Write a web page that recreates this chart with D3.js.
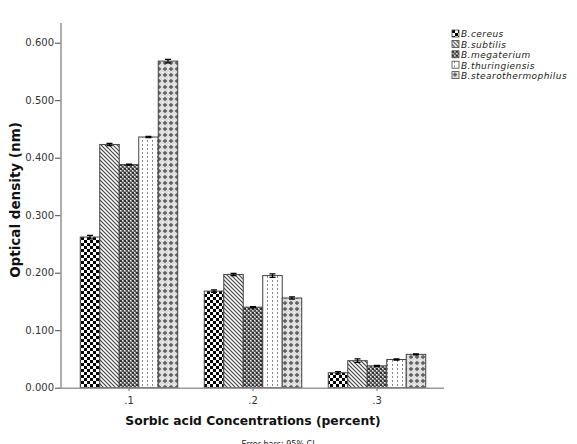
<!DOCTYPE html>
<html><head><meta charset="utf-8">
<script src="https://cdn.jsdelivr.net/npm/d3@7"></script>
<style>
body{margin:0;background:#fff;}
text{font-family:"DejaVu Sans",Verdana,sans-serif;}
</style></head>
<body><svg id="c" width="577" height="444"></svg>
<script>
const categories = [".1", ".2", ".3"];
const seriesNames = ["B.cereus", "B.subtilis", "B.megaterium", "B.thuringiensis", "B.stearothermophilus"];
const cereus = [0.262, 0.168, 0.026];
const subtilis = [0.423, 0.197, 0.047];
const megaterium = [0.388, 0.140, 0.038];
const thuringiensis = [0.436, 0.195, 0.049];
const stearothermophilus = [0.568, 0.156, 0.058];
const errCereus = [0.003, 0.002, 0.002];
const errSubtilis = [0.002, 0.002, 0.003];
const errMegaterium = [0.001, 0.001, 0.001];
const errThuringiensis = [0.001, 0.003, 0.001];
const errStearo = [0.003, 0.002, 0.001];
const yTicks = [0, 0.1, 0.2, 0.3, 0.4, 0.5, 0.6];

const values = [cereus, subtilis, megaterium, thuringiensis, stearothermophilus];
const errs = [errCereus, errSubtilis, errMegaterium, errThuringiensis, errStearo];
const patIds = ["pCheck", "pDiag", "pGrid", "pDash", "pCross"];

const svg = d3.select("#c");
const defs = svg.append("defs");
// checkerboard
let p = defs.append("pattern").attr("id","pCheck").attr("patternUnits","userSpaceOnUse").attr("width",6).attr("height",6);
p.append("rect").attr("width",6).attr("height",6).attr("fill","#fff");
p.append("rect").attr("width",3).attr("height",3).attr("fill","#000");
p.append("rect").attr("x",3).attr("y",3).attr("width",3).attr("height",3).attr("fill","#000");
// diagonal
p = defs.append("pattern").attr("id","pDiag").attr("patternUnits","userSpaceOnUse").attr("width",4).attr("height",4);
p.append("rect").attr("width",4).attr("height",4).attr("fill","#fff");
p.append("path").attr("d","M-1,-1 L5,5 M-1,3 L1,5 M3,-1 L5,1").attr("stroke","#444").attr("stroke-width",1.2);
// dense grid
p = defs.append("pattern").attr("id","pGrid").attr("patternUnits","userSpaceOnUse").attr("width",4).attr("height",4);
p.append("rect").attr("width",4).attr("height",4).attr("fill","#9a9a9a");
p.append("rect").attr("x",0).attr("y",0).attr("width",2).attr("height",2).attr("fill","#333");
p.append("rect").attr("x",2).attr("y",2).attr("width",2).attr("height",2).attr("fill","#555");
p.append("rect").attr("x",2).attr("y",0).attr("width",1).attr("height",1).attr("fill","#eee");
p.append("rect").attr("x",0).attr("y",2).attr("width",1).attr("height",1).attr("fill","#eee");
// dashed vertical
p = defs.append("pattern").attr("id","pDash").attr("patternUnits","userSpaceOnUse").attr("width",5).attr("height",4);
p.append("rect").attr("width",5).attr("height",4).attr("fill","#fff");
p.append("rect").attr("x",2).attr("y",0).attr("width",1).attr("height",2).attr("fill","#888");
// crosses
p = defs.append("pattern").attr("id","pCross").attr("patternUnits","userSpaceOnUse").attr("width",6).attr("height",6);
p.append("rect").attr("width",6).attr("height",6).attr("fill","#ddd");
p.append("path").attr("d","M3,1 L3,5 M1,3 L5,3").attr("stroke","#555").attr("stroke-width",1.3);
p.append("rect").attr("x",0).attr("y",0).attr("width",1).attr("height",1).attr("fill","#fff");

const x0 = d3.scaleBand().domain(categories).range([67, 439]).paddingInner(0.214).paddingOuter(0.107);
const x1 = d3.scaleBand().domain(seriesNames).range([0, x0.bandwidth()]);
const y = d3.scaleLinear().domain([0, 0.6]).range([387.7, 42.7]);

// bars
seriesNames.forEach((s, si) => {
  const g = svg.append("g");
  categories.forEach((c, ci) => {
    const v = values[si][ci];
    g.append("rect")
      .attr("x", x0(c) + x1(s))
      .attr("y", y(v))
      .attr("width", x1.bandwidth())
      .attr("height", y(0) - y(v))
      .attr("fill", `url(#${patIds[si]})`)
      .attr("stroke", "#444").attr("stroke-width", 1);
  });
});
// error bars
seriesNames.forEach((s, si) => {
  categories.forEach((c, ci) => {
    const v = values[si][ci], e = errs[si][ci];
    const cx = x0(c) + x1(s) + x1.bandwidth() / 2;
    svg.append("path")
      .attr("d", `M${cx-3},${y(v+e)} H${cx+3} M${cx},${y(v+e)} V${y(v-e)} M${cx-3},${y(v-e)} H${cx+3}`)
      .attr("stroke", "#000").attr("stroke-width", 1.3).attr("fill","none");
  });
});

// axes
const yAxis = d3.axisLeft(y).tickValues(yTicks).tickFormat(d3.format(".3f")).tickSize(6).tickSizeOuter(0);
const ya = svg.append("g").attr("transform", "translate(61,0)").call(yAxis);
ya.select(".domain").remove();
ya.selectAll(".tick line").attr("stroke", "#444");
ya.selectAll(".tick text").attr("font-size", 10).attr("fill", "#333").attr("font-family","DejaVu Sans, Verdana, sans-serif").attr("x", -7);
svg.append("line").attr("x1", 61).attr("x2", 61).attr("y1", 23).attr("y2", y(0)+1).attr("stroke", "#999").attr("stroke-width", 1.6);

const xAxis = d3.axisBottom(x0).tickSize(3).tickSizeOuter(0);
const xa = svg.append("g").attr("transform", `translate(0,${y(0)})`).call(xAxis);
xa.select(".domain").remove();
xa.selectAll(".tick line").attr("stroke", "#444");
xa.selectAll(".tick text").attr("font-size", 10).attr("fill", "#333").attr("font-family","DejaVu Sans, Verdana, sans-serif").attr("y", 9);
svg.append("line").attr("x1", 60).attr("x2", 444).attr("y1", y(0)+0.5).attr("y2", y(0)+0.5).attr("stroke", "#999").attr("stroke-width", 1.6);

// titles
svg.append("text").attr("transform", "translate(20,200) rotate(-90)").attr("text-anchor", "middle")
  .attr("font-size", 13.5).attr("font-weight", "bold").attr("fill","#111").text("Optical density (nm)");
svg.append("text").attr("x", 253).attr("y", 425).attr("text-anchor", "middle")
  .attr("font-size", 12.3).attr("font-weight", "bold").attr("fill","#111").text("Sorbic acid Concentrations (percent)");
svg.append("text").attr("x", 278).attr("y", 447).attr("text-anchor", "middle")
  .attr("font-size", 8).attr("fill","#222").text("Error bars: 95% CI");

// legend
const lg = svg.append("g").attr("transform", "translate(452,30)");
seriesNames.forEach((s, i) => {
  const row = lg.append("g").attr("transform", `translate(0,${i*10.4})`);
  row.append("rect").attr("x", 0).attr("y", 0).attr("width", 7).attr("height", 7)
    .attr("fill", `url(#${patIds[i]})`).attr("stroke", "#444").attr("stroke-width", 0.8);
  row.append("text").attr("x", 9).attr("y", 7.3).attr("font-size", 9).attr("letter-spacing", 0.45)
    .attr("font-style", "italic").attr("fill","#222").text(s);
});
</script></body></html>
